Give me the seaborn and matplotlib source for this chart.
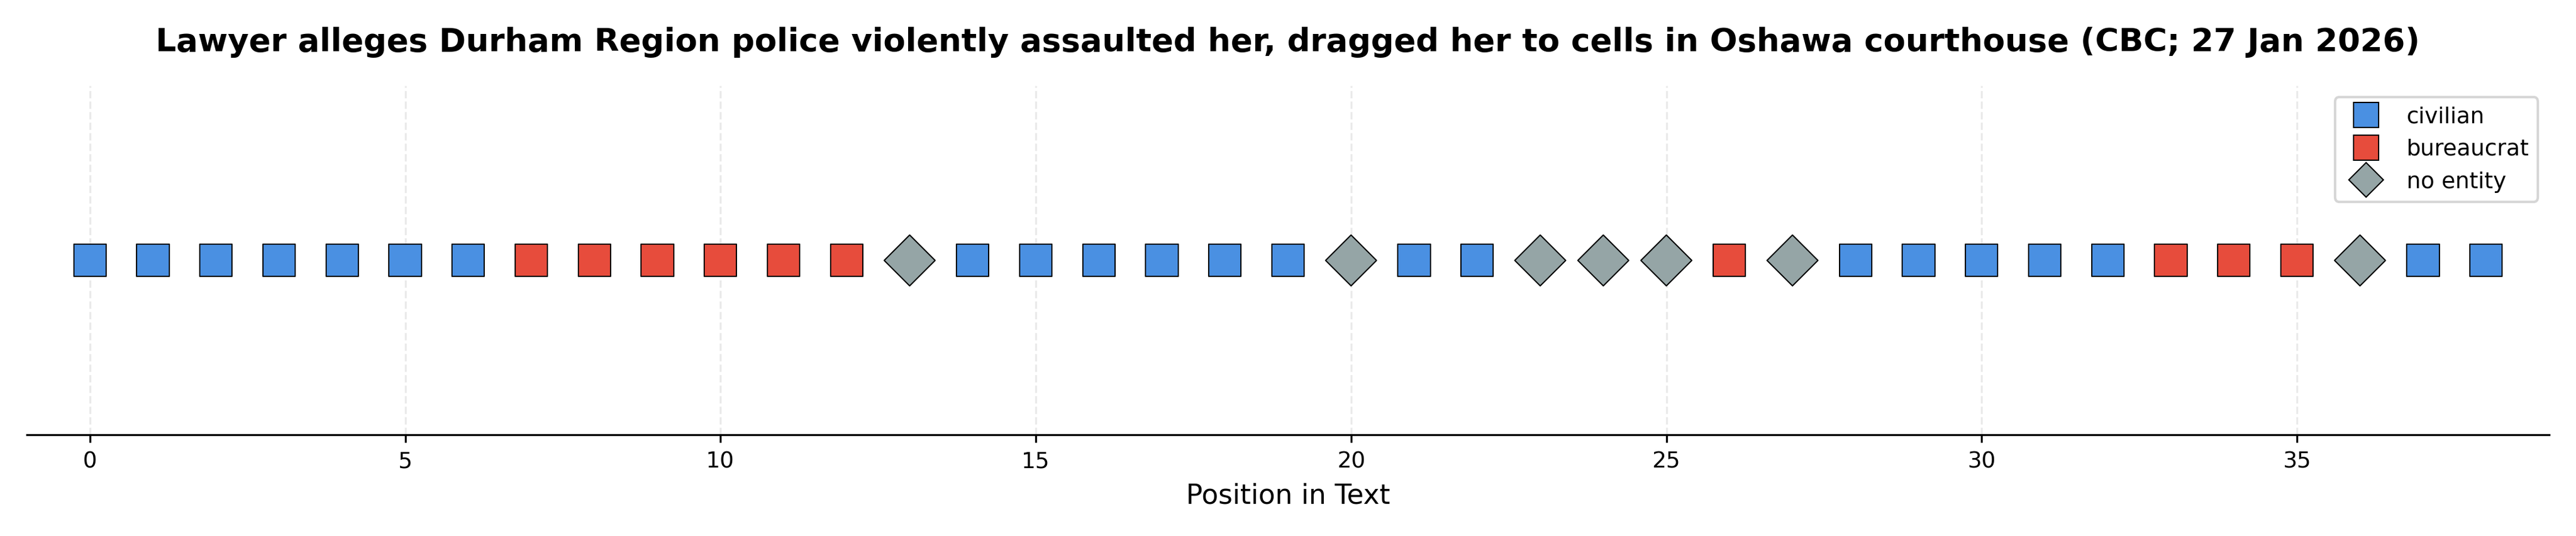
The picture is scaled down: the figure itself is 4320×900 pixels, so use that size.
import matplotlib.pyplot as plt
import seaborn as sns
import pandas as pd

# Data
labels = (['civilian'] * 7 + ['bureaucrat'] * 6 + ['no entity'] + ['civilian'] * 6
          + ['no entity'] + ['civilian'] * 2 + ['no entity'] * 3 + ['bureaucrat']
          + ['no entity'] + ['civilian'] * 5 + ['bureaucrat'] * 3 + ['no entity']
          + ['civilian'] * 2)
positions = list(range(len(labels)))
categories = ['civilian', 'bureaucrat', 'no entity']
colors = {'civilian': '#4a90e2', 'bureaucrat': '#e74c3c', 'no entity': '#95a5a6'}
markers = {'civilian': 's', 'bureaucrat': 's', 'no entity': 'D'}

df = pd.DataFrame({'pos': positions, 'y': [0] * len(labels), 'label': labels})

sns.set_style('white')
plt.rcParams['text.color'] = 'black'
plt.rcParams['axes.labelcolor'] = 'black'
plt.rcParams['xtick.color'] = 'black'
fig, ax = plt.subplots(figsize=(14.4, 3), dpi=300)

sizes = {'civilian': 170, 'bureaucrat': 170, 'no entity': 210}
sns.scatterplot(data=df, x='pos', y='y', hue='label', style='label',
                size='label', sizes=sizes,
                hue_order=categories, style_order=categories, size_order=categories,
                palette=colors, markers=markers, edgecolor='black',
                linewidth=0.5, ax=ax, zorder=3)

ax.set_ylim(-1, 1)
ax.set_xlim(-1, 39)
ax.set_yticks([])
ax.set_ylabel('')
ax.set_xticks(range(0, 39, 5))
ax.tick_params(axis='x', labelsize=9, bottom=True, length=3)
ax.set_xlabel('Position in Text', fontsize=11)
ax.grid(axis='x', linestyle='--', alpha=0.4, zorder=0)
for s in ['top', 'right', 'left']:
    ax.spines[s].set_visible(False)
ax.spines['bottom'].set_color('black')
ax.set_title('Lawyer alleges Durham Region police violently assaulted her, dragged her to cells in Oshawa courthouse (CBC; 27 Jan 2026)',
             fontsize=13, fontweight='bold', pad=14)

handles, lbls = ax.get_legend_handles_labels()
leg = ax.legend(handles[:3], lbls[:3], loc='upper right', fontsize=9, frameon=True)
for h in leg.legend_handles:
    h.set_markersize(10)

plt.tight_layout()
plt.savefig('out.png', dpi=300)
